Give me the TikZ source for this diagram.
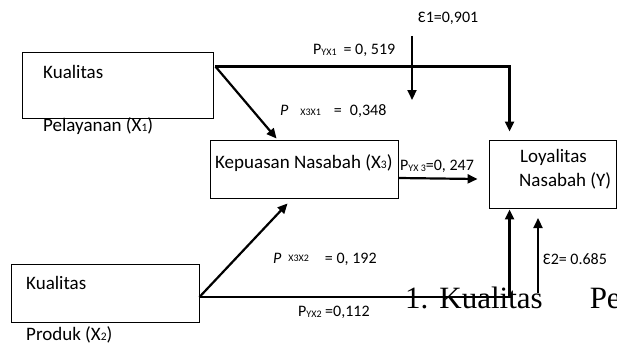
\documentclass[tikz,border=0pt]{standalone}
\usepackage{fontspec}
\setmainfont{Carlito}
\newfontfamily\docserif{Liberation Serif}
\usetikzlibrary{calc,positioning,arrows.meta}

\newcommand{\boxsub}[1]{{\fontsize{11.5}{12}\selectfont #1}}
\newcommand{\coefsub}[1]{\raisebox{-1.5pt}{\fontsize{10}{10}\selectfont #1}}
\newcommand{\coefmid}[1]{{\fontsize{10}{10}\selectfont #1}}

\begin{document}
\begin{tikzpicture}[
  x=1pt,y=-1pt,
  var_box/.style={rectangle,draw=black,line width=.9pt,inner sep=0pt},
  box_text/.style={anchor=west,inner sep=0pt,font=\fontsize{19}{21}\selectfont},
  coef_label/.style={anchor=west,inner sep=0pt,font=\fontsize{16}{18}\selectfont},
  path_arrow/.style={line width=2.2pt,-{Triangle[length=10pt,width=9pt]}}
  ]
  \useasboundingbox (0,0) rectangle (617,345);

%variables
  \node (X1) [var_box,minimum width=191pt,minimum height=66pt] at(117.5,85) {};
  \node (X2) [var_box,minimum width=188pt,minimum height=58pt] at(105,293) {};
  \node (X3) [var_box,minimum width=188pt,minimum height=58pt] at(304,169) {};
  \node (Y) [var_box,minimum width=127pt,minimum height=68pt] at(552.5,174) {};

  \node (X1_txt_a) [box_text] at(43,72) {Kualitas};
  \node (X1_txt_b) [box_text] at(43,126) {Pelayanan (X\boxsub{1})};
  \node (X2_txt_a) [box_text] at(26,283) {Kualitas};
  \node (X2_txt_b) [box_text] at(26,335) {Produk (X\boxsub{2})};
  \node (X3_txt) [box_text] at(215,163) {Kepuasan Nasabah (X\boxsub{3})};
  \node (Y_txt_a) [box_text] at(520,157) {Loyalitas};
  \node (Y_txt_b) [box_text] at(519,181) {Nasabah (Y)};

%paths
  \coordinate (X1_out) at($(X1.north east)+(2,15)$);
  \coordinate (X2_out) at($(X2.east)+(0,4)$);
  \coordinate (X3_out) at($(X3.east)+(0,9)$);
  \coordinate (Y_top) at($(Y.north west)+(21,-8)$);
  \coordinate (Y_bottom) at($(Y.south west)+(21,1)$);

  \draw [path_arrow] (X1_out) -- ($(X3.north west)+(67,-1)$);
  \draw [path_arrow] (X1_out) -| (Y_top);
  \draw [path_arrow] (X2_out) -- ($(X3.south west)+(78,5)$);
  \draw [path_arrow] (X2_out) -| (Y_bottom);
  \draw [path_arrow] (X3_out) -- ($(Y.west)+(-11,5)$);

%errors
  \node (E1) [coef_label] at(418,18) {Ɛ1=0,901};
  \coordinate (E1_top) at(412,36);
  \draw [path_arrow] (E1_top) -- +(0,64);
  \node (E2) [coef_label] at(543,259) {Ɛ2= 0.685};
  \coordinate (E2_bottom) at(538,293);
  \draw [path_arrow] (E2_bottom) -- +(0,-75);

%coefficients
  \node (P_YX1) [coef_label] at(313,50) {P\coefsub{YX1}\hspace{7pt}= 0, 519};
  \node (P_X3X1) [coef_label] at(280,111) {\textit{P}\hspace{12pt}\coefmid{X3X1}\hspace{13pt}=\hspace{8pt}0,348};
  \node (P_YX3) [coef_label] at(400,166) {P\coefsub{YX 3}=0, 247};
  \node (P_X3X2) [coef_label] at(273,259) {\textit{P}\hspace{7pt}\raisebox{2pt}{\coefmid{X3X2}}\hspace{16pt}= 0, 192};
  \node (P_YX2) [coef_label] at(298,312) {P\coefsub{YX2} =0,112};

  \node (list_txt) [anchor=base west,inner sep=0pt,font=\docserif\fontsize{31}{31}\selectfont] at(405,308) {1.\hspace{11pt}Kualitas\hspace{47pt}Pe};
\end{tikzpicture}
\end{document}
